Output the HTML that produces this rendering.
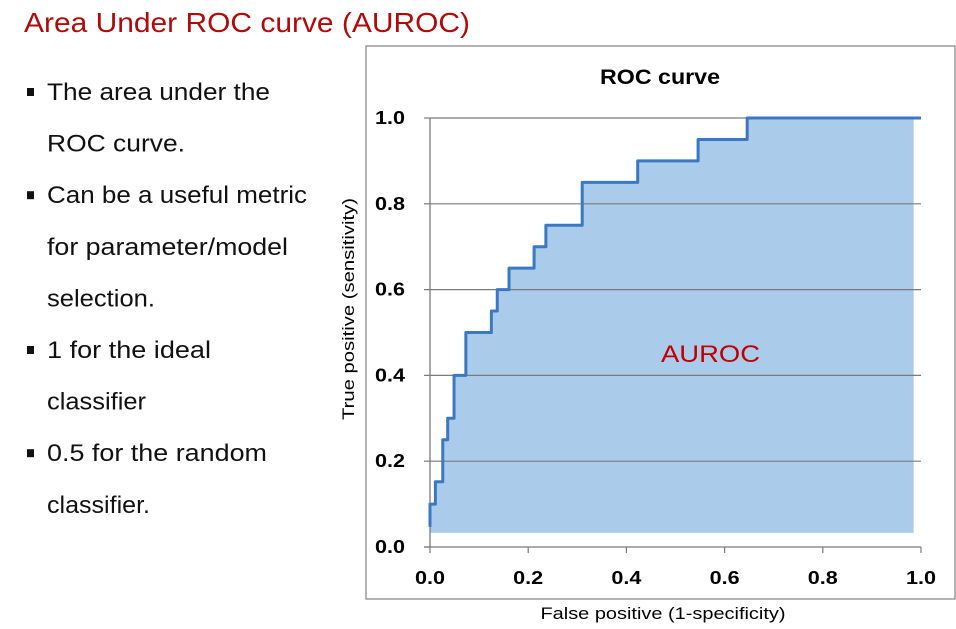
<!DOCTYPE html>
<html><head><meta charset="utf-8"><style>
html,body{margin:0;padding:0;background:#fff;}
svg{display:block;font-family:"Liberation Sans",sans-serif;}
</style></head><body>
<svg id="root" width="956" height="629" viewBox="0 0 956 629">
<text x="24" y="32" font-size="28" fill="#b00a0a" textLength="446" lengthAdjust="spacingAndGlyphs">Area Under ROC curve (AUROC)</text>
<g id="bullets"></g>
<rect x="366" y="46" width="589" height="553" fill="#fff" stroke="#8a8a8a" stroke-width="1.3"/>
<text x="660" y="84" font-size="21" font-weight="bold" text-anchor="middle" textLength="120" lengthAdjust="spacingAndGlyphs">ROC curve</text>
<g id="plot"></g>
<text x="663" y="619" font-size="17" text-anchor="middle" textLength="245" lengthAdjust="spacingAndGlyphs">False positive (1-specificity)</text>
<text transform="translate(354,309) rotate(-90)" font-size="17" text-anchor="middle" textLength="222" lengthAdjust="spacingAndGlyphs">True positive (sensitivity)</text>
</svg>
<script>
const fprValues=[0,0,0.011,0.011,0.026,0.026,0.036,0.036,0.049,0.049,0.073,0.073,0.125,0.125,0.137,0.137,0.161,0.161,0.212,0.212,0.236,0.236,0.31,0.31,0.423,0.423,0.546,0.546,0.646,0.646,1.0];
const tprValues=[0.047,0.10,0.10,0.152,0.152,0.25,0.25,0.30,0.30,0.40,0.40,0.50,0.50,0.55,0.55,0.60,0.60,0.65,0.65,0.70,0.70,0.75,0.75,0.85,0.85,0.90,0.90,0.95,0.95,1.0,1.0];
const yTicks=[0,0.2,0.4,0.6,0.8,1.0];
const yTickLabels=["0.0","0.2","0.4","0.6","0.8","1.0"];
const xTicks=[0,0.2,0.4,0.6,0.8,1.0];
const xTickLabels=["0.0","0.2","0.4","0.6","0.8","1.0"];
const bulletLines=["The area under the","ROC curve.","Can be a useful metric","for parameter/model","selection.","1 for the ideal","classifier","0.5 for the random","classifier."];
const bulletFlags=[1,0,1,0,0,1,0,1,0];
const bulletWidths=[223,138,260,241,108,164,99,220,103];
const NS="http://www.w3.org/2000/svg";
function X(v){return 430+v*491;}
function Y(v){return 547-v*429;}
function mk(tag,attrs,parent){const e=document.createElementNS(NS,tag);for(const k in attrs)e.setAttribute(k,attrs[k]);parent.appendChild(e);return e;}
const bl=document.getElementById('bullets');
bulletLines.forEach((t,i)=>{
  const by=100+i*51.6;
  if(bulletFlags[i]){const r=mk('rect',{x:27,y:by-12,width:7,height:8,fill:'#111'},bl);
    
    }
  const tx=mk('text',{x:47,y:by,'font-size':24,fill:'#111',textLength:bulletWidths[i],lengthAdjust:'spacingAndGlyphs'},bl);
  tx.textContent=t;
  
  
});
const p=document.getElementById('plot');
let d='M'+X(0)+','+Y(0.033);
fprValues.forEach((v,i)=>{const xv=Math.min(v,0.985);d+=' L'+X(xv)+','+Y(tprValues[i]);});
d+=' L'+X(0.985)+','+Y(0.033)+' Z';
const area=mk('path',{d:d,fill:'#abcbeb'},p);


yTicks.forEach((v,i)=>{
  if(v>0){const g=mk('line',{x1:X(0),x2:X(1),y1:Y(v),y2:Y(v),stroke:'#7a7a7a','stroke-width':1.2},p);
    
    }
  const tk=mk('line',{x1:X(0)-6,x2:X(0),y1:Y(v),y2:Y(v),stroke:'#7a7a7a','stroke-width':1.2},p);
  
  
  const t=mk('text',{x:405,y:Y(v)+6,'font-size':18,'font-weight':'bold','text-anchor':'end',textLength:30,lengthAdjust:'spacingAndGlyphs'},p);
  t.textContent=yTickLabels[i];
  
  
});
xTicks.forEach((v,i)=>{
  const tk=mk('line',{x1:X(v),x2:X(v),y1:Y(0),y2:Y(0)+6,stroke:'#7a7a7a','stroke-width':1.2},p);
  
  
  const t=mk('text',{x:X(v),y:584,'font-size':18,'font-weight':'bold','text-anchor':'middle',textLength:30,lengthAdjust:'spacingAndGlyphs'},p);
  t.textContent=xTickLabels[i];
  
  
});
const ya=mk('line',{x1:X(0),x2:X(0),y1:Y(1),y2:Y(0),stroke:'#7a7a7a','stroke-width':1.3},p);


const xa=mk('line',{x1:X(0)-6,x2:X(1),y1:Y(0),y2:Y(0),stroke:'#7a7a7a','stroke-width':1.3},p);


const pts=fprValues.map((v,i)=>X(v)+','+Y(tprValues[i])).join(' ');
const line=mk('polyline',{points:pts,fill:'none',stroke:'#3b78c3','stroke-width':3,'stroke-linejoin':'round'},p);


const lab=mk('text',{x:661,y:362,'font-size':24,fill:'#c00000',textLength:99,lengthAdjust:'spacingAndGlyphs'},p);
lab.textContent='AUROC';


</script>
</body></html>
